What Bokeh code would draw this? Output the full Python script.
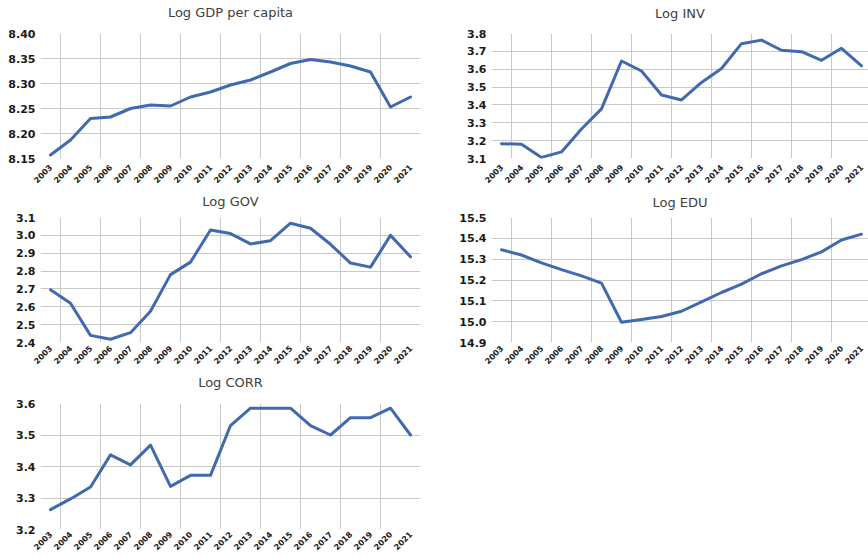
import math
from bokeh.plotting import figure
from bokeh.models import Range1d, FixedTicker, NumeralTickFormatter, Spacer, LinearAxis
from bokeh.layouts import column, row
from bokeh.embed import file_html
from bokeh.resources import INLINE

# ---- data ----
years = [2003, 2004, 2005, 2006, 2007, 2008, 2009, 2010, 2011, 2012,
         2013, 2014, 2015, 2016, 2017, 2018, 2019, 2020, 2021]

log_gdp = [8.157, 8.187, 8.230, 8.233, 8.250, 8.257, 8.255, 8.273, 8.283, 8.297,
           8.307, 8.323, 8.340, 8.348, 8.343, 8.335, 8.323, 8.253, 8.273]
log_inv = [3.183, 3.180, 3.106, 3.137, 3.265, 3.378, 3.646, 3.590, 3.456, 3.428,
           3.526, 3.604, 3.743, 3.763, 3.706, 3.698, 3.650, 3.717, 3.619]
log_gov = [2.695, 2.620, 2.440, 2.418, 2.455, 2.575, 2.780, 2.850, 3.030, 3.010,
           2.952, 2.970, 3.068, 3.040, 2.950, 2.845, 2.822, 3.000, 2.880]
log_edu = [15.345, 15.320, 15.282, 15.250, 15.220, 15.185, 14.997, 15.010, 15.025, 15.050,
           15.095, 15.140, 15.180, 15.230, 15.268, 15.298, 15.335, 15.392, 15.420]
log_corr = [3.263, 3.297, 3.335, 3.437, 3.405, 3.468, 3.337, 3.372, 3.372, 3.530,
            3.585, 3.585, 3.585, 3.530, 3.500, 3.555, 3.555, 3.585, 3.500]

titles = ["Log GDP per capita", "Log INV", "Log GOV", "Log EDU", "Log CORR"]

gdp_ticks = [8.15, 8.20, 8.25, 8.30, 8.35, 8.40]
inv_ticks = [3.1, 3.2, 3.3, 3.4, 3.5, 3.6, 3.7, 3.8]
gov_ticks = [2.4, 2.5, 2.6, 2.7, 2.8, 2.9, 3.0, 3.1]
edu_ticks = [14.9, 15.0, 15.1, 15.2, 15.3, 15.4, 15.5]
corr_ticks = [3.2, 3.3, 3.4, 3.5, 3.6]

LINE = "#4169AE"
GRID = "#c9c9c9"
TXT = "#1a1a1a"


def panel(title, vals, ticks, fmt, height, left, right, top, bottom, xend,
          title_gap, label_standoff):
    p = figure(width=434, height=height,
               x_range=Range1d(years[0] - 0.5, xend),
               y_range=Range1d(ticks[0], ticks[-1]),
               output_backend="svg", toolbar_location=None,
               min_border_left=left, min_border_right=right,
               min_border_top=top, min_border_bottom=bottom)
    p.outline_line_color = None

    # title drawn as the label of an empty axis above the frame
    tax = LinearAxis(ticker=FixedTicker(ticks=[]), axis_label=title,
                     axis_line_color=None, major_tick_line_color=None,
                     minor_tick_line_color=None, major_tick_out=0, major_tick_in=0,
                     minor_tick_out=0, major_label_standoff=0,
                     axis_label_standoff=title_gap,
                     axis_label_text_font="DejaVu Sans",
                     axis_label_text_font_size="13px",
                     axis_label_text_font_style="normal",
                     axis_label_text_color="#404040")
    p.add_layout(tax, "above")

    p.line(years, vals, line_width=3, line_color=LINE, line_join="round", line_cap="round")

    xa = p.below[0]
    xa.ticker = FixedTicker(ticks=years)
    xa.formatter = NumeralTickFormatter(format="0")
    xa.major_label_orientation = math.pi / 4
    ya = p.left[0]
    ya.ticker = FixedTicker(ticks=ticks)
    ya.formatter = NumeralTickFormatter(format=fmt)
    for ax in (xa, ya):
        ax.axis_line_color = None
        ax.major_tick_line_color = None
        ax.minor_tick_line_color = None
        ax.major_tick_out = 0
        ax.major_tick_in = 0
        ax.major_label_text_font = "DejaVu Sans"
        ax.major_label_text_font_style = "bold"
        ax.major_label_text_color = TXT
    ya.major_label_text_font_size = "11px"
    xa.major_label_text_font_size = "8px"
    ya.major_label_standoff = 5
    xa.major_label_standoff = label_standoff

    p.xgrid.ticker = FixedTicker(ticks=[y + 0.5 for y in years[::2]][:-1])
    p.ygrid.ticker = FixedTicker(ticks=ticks[1:-1])
    p.xgrid.grid_line_color = GRID
    p.ygrid.grid_line_color = GRID
    return p


L_END = years[-1] + 0.5
R_END = years[0] - 0.5 + 377 / 20

p1 = panel(titles[0], log_gdp, gdp_ticks, "0.00", 189, 40, 14, 33, 31, L_END, 14, 7)
p2 = panel(titles[1], log_inv, inv_ticks, "0.0", 189, 57, 0, 32, 31, R_END, 13, 7)
p3 = panel(titles[2], log_gov, gov_ticks, "0.0", 181, 40, 14, 28, 27, L_END, 9, 4)
p4 = panel(titles[3], log_edu, edu_ticks, "0.0", 181, 57, 0, 27, 27, R_END, 8, 4)
p5 = panel(titles[4], log_corr, corr_ticks, "0.0", 186, 40, 14, 33, 26, L_END, 14, 3)

layout = column(row(p1, p2), row(p3, p4), row(p5, Spacer(width=434, height=186)))

open("out.html", "w").write(file_html(layout, INLINE))
